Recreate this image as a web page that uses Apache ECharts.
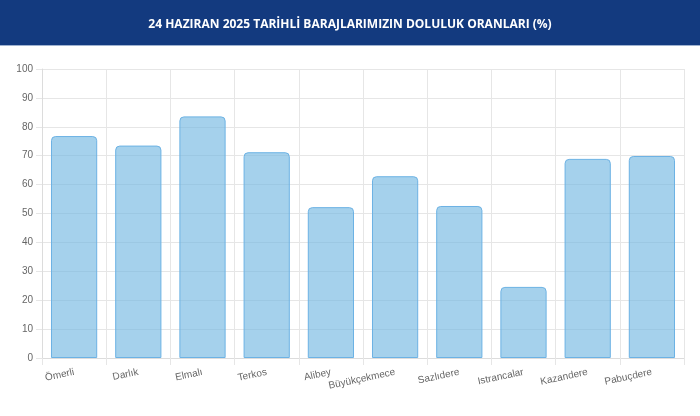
<!DOCTYPE html>
<html>
<head>
<meta charset="utf-8">
<script src="https://cdn.jsdelivr.net/npm/echarts@6/dist/echarts.min.js"></script>
<style>
html,body{margin:0;padding:0;background:#fff;}
#c{width:700px;height:416px;}
</style>
</head>
<body>
<div id="c"></div>
<script>
const titleText = "24 HAZIRAN 2025 TARİHLİ BARAJLARIMIZIN DOLULUK ORANLARI (%)";
const categories = ["Ömerli","Darlık","Elmalı","Terkos","Alibey","Büyükçekmece","Sazlıdere","Istrancalar","Kazandere","Pabuçdere"];
const fillRates = [76.8, 73.5, 83.6, 71.2, 52.2, 62.9, 52.6, 24.6, 68.9, 69.9];
const yTicks = {min: 0, max: 100, interval: 10};

const chart = echarts.init(document.getElementById('c'), null, {renderer: 'canvas'});
chart.setOption({
  animation: false,
  backgroundColor: '#ffffff',
  graphic: [
    {type: 'rect', left: 0, top: 0, shape: {width: 700, height: 45}, style: {fill: '#133a7f'}, z: 0},
    {type: 'rect', left: 0, top: 45, shape: {width: 700, height: 1}, style: {fill: '#9fb2d0'}, z: 0}
  ],
  title: {
    text: titleText,
    left: 'center',
    top: 14,
    textStyle: {color: '#ffffff', fontFamily: 'Open Sans', fontWeight: 'bold', fontSize: 12}
  },
  grid: {left: 42, right: 16, top: 69, bottom: 58, containLabel: false},
  xAxis: {
    type: 'category',
    data: categories,
    axisLine: {show: true, lineStyle: {color: '#dcdcdc'}},
    axisTick: {show: true, length: 7, lineStyle: {color: '#e6e6e6'}},
    splitLine: {show: true, lineStyle: {color: '#e6e6e6'}},
    axisLabel: {rotate: 12, color: '#666', fontFamily: 'Liberation Sans', fontSize: 10, margin: 14, interval: 0}
  },
  yAxis: {
    type: 'value',
    min: yTicks.min, max: yTicks.max, interval: yTicks.interval,
    axisLine: {show: true, lineStyle: {color: '#dcdcdc'}},
    axisTick: {show: true, length: 6, lineStyle: {color: '#e6e6e6'}},
    splitLine: {show: true, lineStyle: {color: '#e6e6e6'}},
    axisLabel: {color: '#666', fontFamily: 'Liberation Sans', fontSize: 10, margin: 9}
  },
  series: [{
    type: 'bar',
    data: fillRates,
    barCategoryGap: '28%',
    itemStyle: {
      color: 'rgba(110,180,225,0.62)',
      borderColor: '#6cb2e4',
      borderWidth: 1,
      borderRadius: [4,4,0,0]
    }
  }]
});
</script>
</body>
</html>
